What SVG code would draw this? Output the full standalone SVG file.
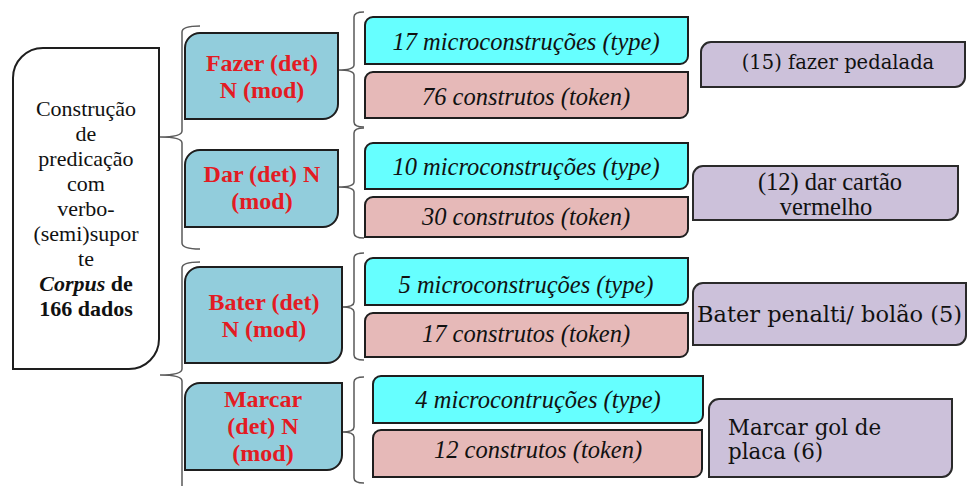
<svg xmlns="http://www.w3.org/2000/svg" width="967" height="486" viewBox="0 0 967 486">
  <style>
    .box { stroke: #1e1e1e; stroke-width: 2; }
    .root { fill: #ffffff; }
    .verb { fill: #92CDDC; }
    .type { fill: #66FFFF; }
    .token { fill: #E6B9B8; }
    .ex { fill: #CCC1DA; stroke: #2a2a2a; stroke-width: 2; }
    .brace { fill: none; stroke: #5a5a5a; stroke-width: 1.5; }
    .serif { font-family: "Liberation Serif", "Times New Roman", serif; }
    .wide { font-family: "DejaVu Serif", Georgia, serif; }
    .t-root { font-size: 22px; fill: #111; text-anchor: middle; }
    .t-verb { font-size: 24px; font-weight: bold; fill: #E31B23; text-anchor: middle; }
    .t-count { font-size: 24.5px; font-style: italic; fill: #111; text-anchor: middle; }
    .t-ex { fill: #111; }
  </style>

  <!-- brackets linking each level to the next -->
  <g id="connectors">
    <path class="brace" d="M200,26 Q182,26 182,32 V131 Q182,137 160,137 Q182,137 182,143 V243 Q182,249 200,249"/>
    <path class="brace" d="M200,262 Q182,262 182,268 V369 Q182,375 160,375 Q182,375 182,381 V486 Q182,492 200,492"/>
    <path class="brace" d="M364,12 Q354,12 354,17 V65 Q354,70 338,70 Q354,70 354,75 V122 Q354,127 364,127"/>
    <path class="brace" d="M364,128 Q354,128 354,133 V182 Q354,187 338,187 Q354,187 354,192 V233 Q354,238 364,238"/>
    <path class="brace" d="M364,253 Q354,253 354,258 V302 Q354,307 342,307 Q354,307 354,312 V355 Q354,360 364,360"/>
    <path class="brace" d="M364,377 Q354,377 354,382 V427 Q354,432 342,432 Q354,432 354,437 V478 Q354,483 364,483"/>
  </g>

  <!-- root construction -->
  <g id="root" class="serif">
    <path class="box root" d="M43,48 H159 V339 A30,30 0 0 1 129,369 H13 V78 A30,30 0 0 1 43,48 Z"/>
    <text class="t-root" x="86" y="116">Construção</text>
    <text class="t-root" x="86" y="141">de</text>
    <text class="t-root" x="86" y="166">predicação</text>
    <text class="t-root" x="86" y="191">com</text>
    <text class="t-root" x="86" y="216">verbo-</text>
    <text class="t-root" x="86" y="241">(semi)supor</text>
    <text class="t-root" x="86" y="266">te</text>
    <text class="t-root" x="86" y="291" font-weight="bold"><tspan font-style="italic">Corpus</tspan> de</text>
    <text class="t-root" x="86" y="316" font-weight="bold">166 dados</text>
  </g>

  <!-- verb constructions -->
  <g id="fazer" class="serif">
    <path class="box verb" d="M200,33 H338 V104 A15,15 0 0 1 323,119 H185 V48 A15,15 0 0 1 200,33 Z"/>
    <text class="t-verb" x="262" y="71">Fazer (det)</text>
    <text class="t-verb" x="262" y="98">N (mod)</text>
  </g>
  <g id="dar" class="serif">
    <path class="box verb" d="M200,150 H338 V212 A15,15 0 0 1 323,227 H185 V165 A15,15 0 0 1 200,150 Z"/>
    <text class="t-verb" x="262" y="182">Dar (det) N</text>
    <text class="t-verb" x="262" y="209">(mod)</text>
  </g>
  <g id="bater" class="serif">
    <path class="box verb" d="M200,267 H342 V348 A15,15 0 0 1 327,363 H185 V282 A15,15 0 0 1 200,267 Z"/>
    <text class="t-verb" x="264" y="310">Bater (det)</text>
    <text class="t-verb" x="264" y="337">N (mod)</text>
  </g>
  <g id="marcar" class="serif">
    <path class="box verb" d="M200,383 H342 V455 A15,15 0 0 1 327,470 H185 V398 A15,15 0 0 1 200,383 Z"/>
    <text class="t-verb" x="263" y="407">Marcar</text>
    <text class="t-verb" x="263" y="434">(det) N</text>
    <text class="t-verb" x="263" y="461">(mod)</text>
  </g>

  <!-- types and tokens -->
  <g id="fazer-type" class="serif">
    <path class="box type" d="M373,17 H688 V56 A8,8 0 0 1 680,64 H365 V25 A8,8 0 0 1 373,17 Z"/>
    <text class="t-count" x="526" y="50">17 microconstruções (type)</text>
  </g>
  <g id="fazer-token" class="serif">
    <path class="box token" d="M373,72 H688 V110 A8,8 0 0 1 680,118 H365 V80 A8,8 0 0 1 373,72 Z"/>
    <text class="t-count" x="526" y="105">76 construtos (token)</text>
  </g>
  <g id="dar-type" class="serif">
    <path class="box type" d="M373,143 H688 V181 A8,8 0 0 1 680,189 H365 V151 A8,8 0 0 1 373,143 Z"/>
    <text class="t-count" x="526" y="175">10 microconstruções (type)</text>
  </g>
  <g id="dar-token" class="serif">
    <path class="box token" d="M373,197 H688 V229 A8,8 0 0 1 680,237 H365 V205 A8,8 0 0 1 373,197 Z"/>
    <text class="t-count" x="526" y="225">30 construtos (token)</text>
  </g>
  <g id="bater-type" class="serif">
    <path class="box type" d="M373,258 H688 V297 A8,8 0 0 1 680,305 H365 V266 A8,8 0 0 1 373,258 Z"/>
    <text class="t-count" x="526" y="293">5 microconstruções (type)</text>
  </g>
  <g id="bater-token" class="serif">
    <path class="box token" d="M373,313 H688 V349 A8,8 0 0 1 680,357 H365 V321 A8,8 0 0 1 373,313 Z"/>
    <text class="t-count" x="526" y="342">17 construtos (token)</text>
  </g>
  <g id="marcar-type" class="serif">
    <path class="box type" d="M381,376 H703 V415 A8,8 0 0 1 695,423 H373 V384 A8,8 0 0 1 381,376 Z"/>
    <text class="t-count" x="538" y="408">4 microcontruções (type)</text>
  </g>
  <g id="marcar-token" class="serif">
    <path class="box token" d="M381,430 H702 V469 A8,8 0 0 1 694,477 H373 V438 A8,8 0 0 1 381,430 Z"/>
    <text class="t-count" x="538" y="458">12 construtos (token)</text>
  </g>

  <!-- examples -->
  <g id="fazer-example" class="wide">
    <path class="ex" d="M711,42 H965 V77 A10,10 0 0 1 955,87 H701 V52 A10,10 0 0 1 711,42 Z"/>
    <text class="t-ex" x="838" y="69" font-size="19.5" text-anchor="middle">(15) fazer pedalada</text>
  </g>
  <g id="dar-example" class="serif">
    <path class="ex" d="M703,166 H958 V210 A10,10 0 0 1 948,220 H693 V176 A10,10 0 0 1 703,166 Z"/>
    <text class="t-ex" x="830" y="190" font-size="24.5" text-anchor="middle">(12) dar cartão</text>
    <text class="t-ex" x="826" y="215" font-size="24.5" text-anchor="middle">vermelho</text>
  </g>
  <g id="bater-example" class="wide">
    <path class="ex" d="M703,283 H966 V335 A10,10 0 0 1 956,345 H693 V293 A10,10 0 0 1 703,283 Z"/>
    <text class="t-ex" x="697" y="322" font-size="22.5">Bater penalti/ bolão (5)</text>
  </g>
  <g id="marcar-example" class="wide">
    <path class="ex" d="M719,399 H952 V467 A10,10 0 0 1 942,477 H709 V409 A10,10 0 0 1 719,399 Z"/>
    <text class="t-ex" x="728" y="435" font-size="21.4">Marcar gol de</text>
    <text class="t-ex" x="728" y="459" font-size="21.4">placa (6)</text>
  </g>
</svg>
